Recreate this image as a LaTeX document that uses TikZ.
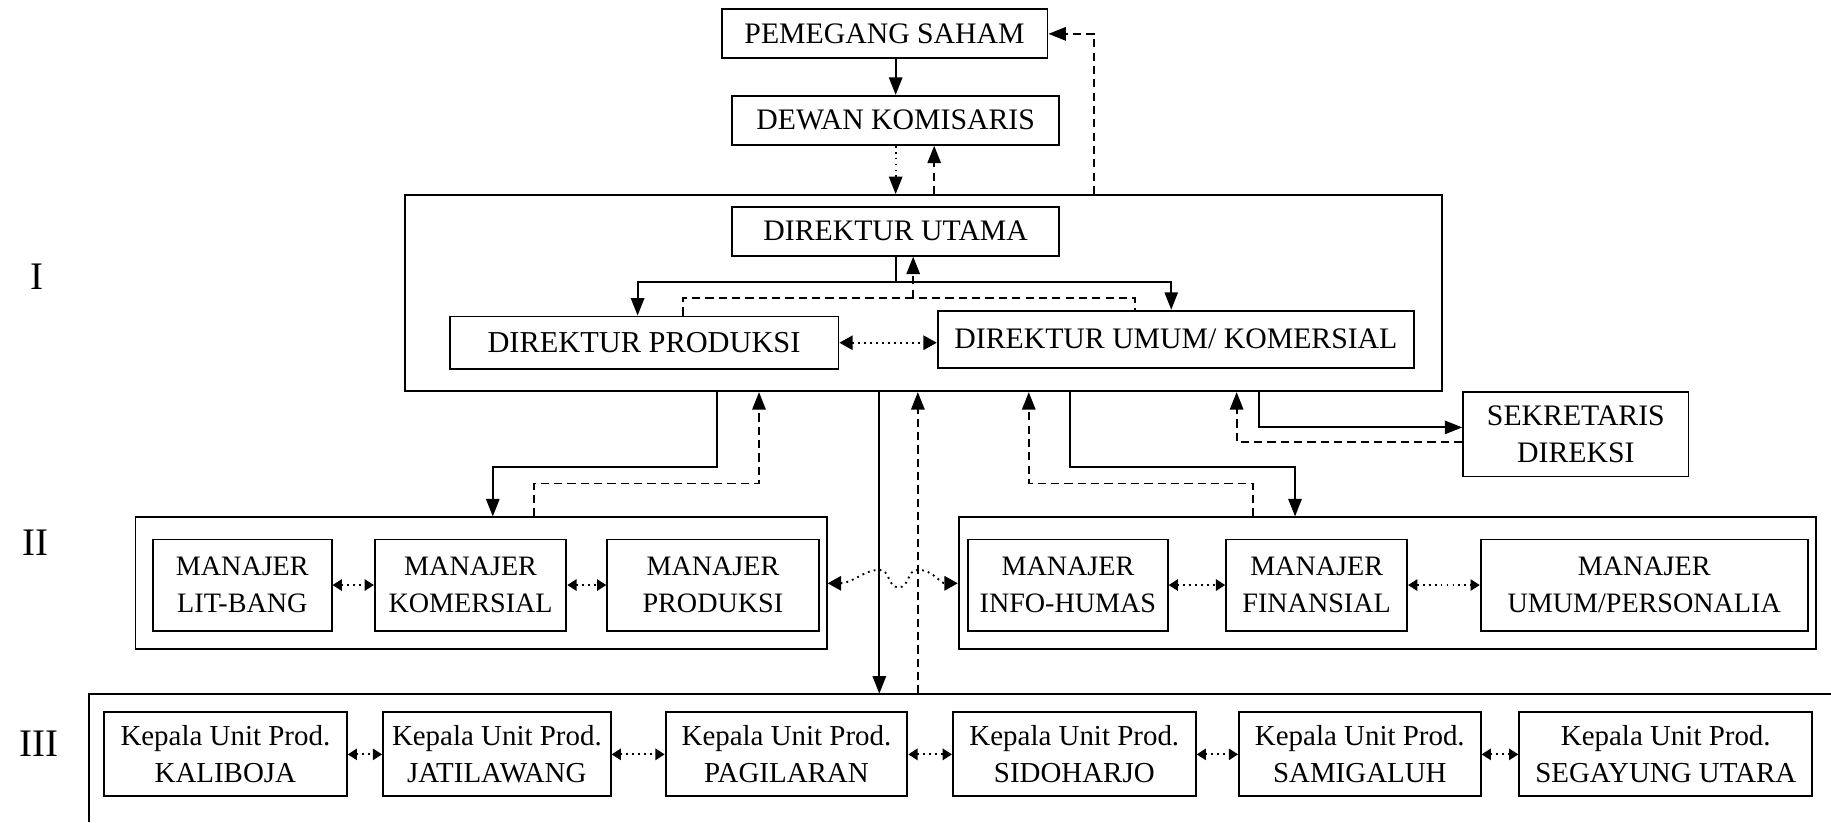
\documentclass[tikz,border=0pt]{standalone}
\usepackage{fontspec}
\setmainfont{Liberation Serif}
\usetikzlibrary{arrows.meta}

\begin{document}
\begin{tikzpicture}[
  >={Triangle[length=8.5pt,width=6.5pt]},
  every path/.style={line width=0.9pt},
  box/.style={draw,align=center,inner sep=0pt,font=\fontsize{14.5}{18}\selectfont},
  mgr/.style={box,minimum height=1.56cm,font=\fontsize{13.7}{18}\selectfont},
  unit/.style={box,minimum height=1.44cm,font=\fontsize{14.1}{18}\selectfont},
  frame/.style={draw,inner sep=0pt},
  back/.style={dash pattern=on 4pt off 2.5pt},
  pair/.style={dotted,{Triangle[length=4.5pt,width=5.5pt]}-{Triangle[length=4.5pt,width=5.5pt]}},
  midpair/.style={dotted,{Triangle[length=6.5pt,width=7pt]}-{Triangle[length=6.5pt,width=7pt]}},
  romnum/.style={font=\fontsize{19}{20}\selectfont}
]
\useasboundingbox (0,0) rectangle (31.36,-14.08);

% -- level frames
\node[frame,minimum width=17.76cm,minimum height=3.36cm] (lvlI) at (15.82,-5.02) {};
\node[frame,minimum width=11.84cm,minimum height=2.26cm] (lvlIIa) at (8.24,-9.99) {};
\node[frame,minimum width=14.68cm,minimum height=2.26cm] (lvlIIb) at (23.76,-9.99) {};
\draw (31.36,-11.88) -- (1.52,-11.88) coordinate (lvlIII) -- (1.52,-14.08);

\node[romnum] (rI) at (0.64,-4.74) {I};
\node[romnum] (rII) at (0.60,-9.30) {II};
\node[romnum] (rIII) at (0.66,-12.74) {III};

% -- top
\node[box,minimum width=5.58cm,minimum height=0.84cm] (ps) at (15.15,-0.58) {PEMEGANG SAHAM};
\node[box,minimum width=5.6cm,minimum height=0.84cm] (dk) at (15.34,-2.06) {DEWAN KOMISARIS};

% -- level I
\node[box,minimum width=5.6cm,minimum height=0.84cm] (du) at (15.34,-3.96) {DIREKTUR UTAMA};
\node[box,minimum width=6.66cm,minimum height=0.90cm,font=\fontsize{14.8}{18}\selectfont] (dp) at (11.03,-5.87) {DIREKTUR PRODUKSI};
\node[box,minimum width=8.16cm,minimum height=0.98cm] (duk) at (20.14,-5.81) {DIREKTUR UMUM/ KOMERSIAL};
\node[box,minimum width=3.86cm,minimum height=1.44cm] (sd) at (26.99,-7.44) {SEKRETARIS\\DIREKSI};

% -- level II
\node[mgr,minimum width=3.06cm] (mlb) at (4.15,-10.02) {MANAJER\\LIT-BANG};
\node[mgr,minimum width=3.28cm] (mko) at (8.06,-10.02) {MANAJER\\KOMERSIAL};
\node[mgr,minimum width=3.62cm] (mpr) at (12.21,-10.02) {MANAJER\\PRODUKSI};
\node[mgr,minimum width=3.42cm] (mih) at (18.29,-10.02) {MANAJER\\INFO-HUMAS};
\node[mgr,minimum width=3.10cm] (mfi) at (22.55,-10.02) {MANAJER\\FINANSIAL};
\node[mgr,minimum width=5.60cm] (mup) at (28.16,-10.02) {MANAJER\\UMUM/PERSONALIA};

% -- level III
\node[unit,minimum width=4.16cm] (kp1) at (3.86,-12.92) {Kepala Unit Prod.\\KALIBOJA};
\node[unit,minimum width=3.90cm] (kp2) at (8.51,-12.92) {Kepala Unit Prod.\\JATILAWANG};
\node[unit,minimum width=4.14cm] (kp3) at (13.47,-12.92) {Kepala Unit Prod.\\PAGILARAN};
\node[unit,minimum width=4.16cm] (kp4) at (18.40,-12.92) {Kepala Unit Prod.\\SIDOHARJO};
\node[unit,minimum width=4.14cm] (kp5) at (23.29,-12.92) {Kepala Unit Prod.\\SAMIGALUH};
\node[unit,minimum width=5.02cm] (kp6) at (28.53,-12.92) {Kepala Unit Prod.\\SEGAYUNG UTARA};

% -- top arrows
\draw[->] (ps.south -| dk.north) -- (dk.north);
\draw[dotted,->] (dk.south) -- (dk.south |- lvlI.north);
\draw[back,->] ([xshift=0.66cm]dk.south |- lvlI.north) -- ([xshift=0.66cm]dk.south);
\coordinate (psr) at (18.74,-0.58);
\draw[back,->] (psr |- lvlI.north) -- (psr) -- (ps.east);

% -- inside level I
\draw[->] (du.south) -- ++(0,-0.44) -| ([xshift=-0.11cm]dp.north);
\draw[->] (du.south) -- ++(0,-0.44) -| ([xshift=-0.08cm]duk.north);
\draw[back] ([xshift=0.67cm]dp.north) |- (15.64,-5.10) coordinate (dret) -| ([xshift=-0.70cm]duk.north);
\draw[back,->] (dret) -- (dret |- du.south);
\draw[midpair] (dp.east) -- (dp.east -| duk.west);

% -- level I to level II
\coordinate (ka) at (12.28,-8.00);
\draw[->] (ka |- lvlI.south) -- (ka) -| ([xshift=0.20cm]lvlIIa.north);
\draw[back,->] ([xshift=0.90cm]lvlIIa.north) |- (13.00,-8.28) coordinate (kb) -- (kb |- lvlI.south);
\coordinate (kd) at (18.32,-8.00);
\draw[->] (kd |- lvlI.south) -- (kd) -| ([xshift=-1.58cm]lvlIIb.north);
\draw[back,->] ([xshift=-2.30cm]lvlIIb.north) |- (17.62,-8.28) coordinate (kc) -- (kc |- lvlI.south);

% -- sekretaris
\coordinate (ke) at (21.56,-7.32);
\draw[->] (ke |- lvlI.south) -- (ke) -- (ke -| sd.west);
\coordinate (kf) at (21.18,-7.57);
\draw[back,->] (kf -| sd.west) -- (kf) -- (kf |- lvlI.south);

% -- level I to level III
\coordinate (dn) at (15.06,-11.88);
\coordinate (up) at (15.72,-11.88);
\draw[->] (dn |- lvlI.south) -- (dn);
\draw[back,->] (up) -- (up |- lvlI.south);

% -- between level II groups
\draw[midpair] (lvlIIa.east) .. controls (14.6,-9.99) and (14.8,-9.76) .. (15.06,-9.76)
  .. controls (15.25,-9.76) and (15.2,-10.06) .. (15.39,-10.06)
  .. controls (15.58,-10.06) and (15.53,-9.76) .. (15.72,-9.76)
  .. controls (15.98,-9.76) and (16.1,-9.99) .. (lvlIIb.west);

% -- pairs
\draw[pair] (mlb.east) -- (mko.west);
\draw[pair] (mko.east) -- (mpr.west);
\draw[pair] (mih.east) -- (mfi.west);
\draw[pair] (mfi.east) -- (mup.west);

\draw[pair] (kp1.east) -- (kp2.west);
\draw[pair] (kp2.east) -- (kp3.west);
\draw[pair] (kp3.east) -- (kp4.west);
\draw[pair] (kp4.east) -- (kp5.west);
\draw[pair] (kp5.east) -- (kp6.west);
\end{tikzpicture}
\end{document}
